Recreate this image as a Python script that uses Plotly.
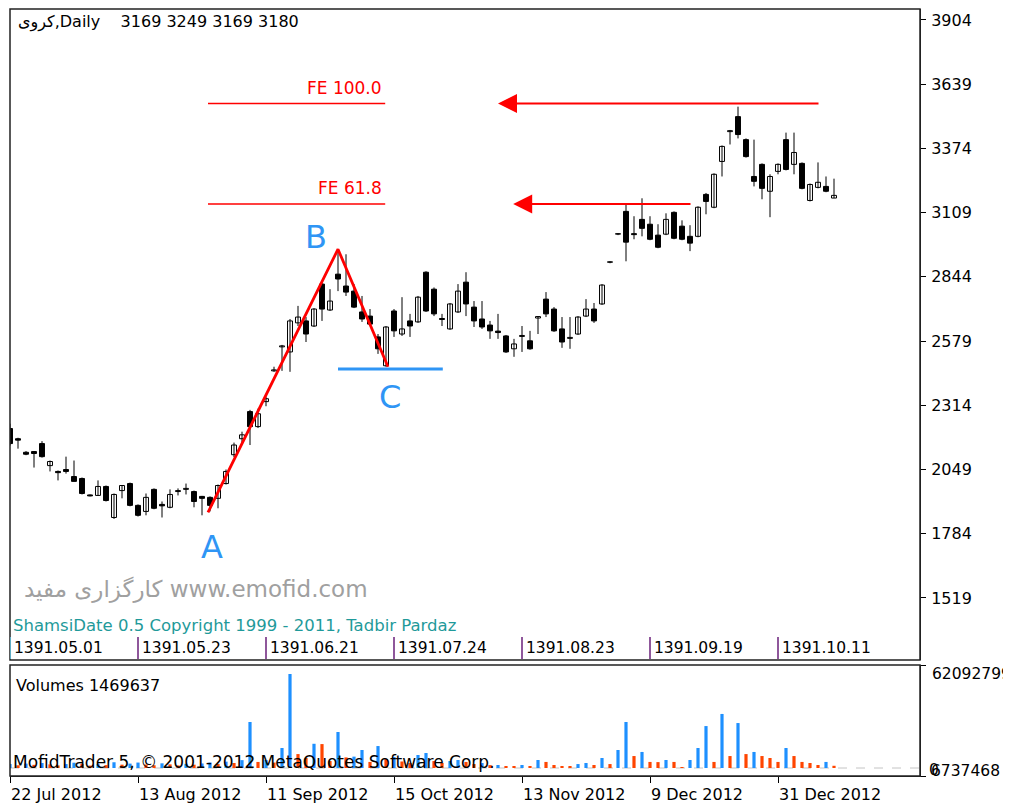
import plotly.graph_objects as go

# ---------------- data ----------------
bar_index = list(range(104))

opens = [2218, 2176, 2120, 2123, 2156, 2065, 2041, 2049, 2020, 2012,
         1944, 1942, 1979, 1851, 1962, 1991, 1901, 1876, 1967, 1905,
         1893, 1958, 1967, 1958, 1938, 1934, 1930, 1991, 2110, 2176,
         2288, 2226, 2329, 2456, 2555, 2534, 2654, 2662, 2641, 2814,
         2707, 2855, 2806, 2785, 2699, 2682, 2596, 2477, 2703, 2608,
         2662, 2658, 2863, 2793, 2672, 2629, 2699, 2822, 2719, 2670,
         2645, 2620, 2600, 2547, 2598, 2580, 2674, 2752, 2711, 2629,
         2590, 2608, 2682, 2711, 2732, 2904, 3020, 3114, 3022, 3081,
         3061, 3016, 3020, 3110, 3053, 3011, 3011, 3184, 3131, 3320,
         3443, 3505, 3410, 3258, 3308, 3197, 3279, 3410, 3308, 3312,
         3159, 3213, 3217, 3169]
highs = [2238, 2180, 2125, 2125, 2166, 2086, 2045, 2102, 2086, 2016,
         1946, 2004, 1983, 1950, 1985, 1995, 1905, 1950, 1971, 1917,
         1967, 1971, 1991, 1962, 1940, 1938, 1987, 2049, 2160, 2205,
         2295, 2300, 2350, 2473, 2563, 2670, 2724, 2678, 2715, 2822,
         2793, 2955, 2937, 2814, 2765, 2711, 2608, 2641, 2711, 2760,
         2691, 2765, 2867, 2800, 2691, 2736, 2814, 2863, 2744, 2744,
         2662, 2691, 2604, 2588, 2641, 2621, 2682, 2781, 2719, 2678,
         2678, 2682, 2752, 2736, 2814, 2908, 3024, 3143, 3094, 3168,
         3094, 3061, 3106, 3114, 3077, 3057, 3135, 3190, 3271, 3386,
         3450, 3546, 3415, 3410, 3312, 3267, 3312, 3439, 3439, 3316,
         3229, 3316, 3258, 3249]
lows = [2148, 2135, 2108, 2057, 2098, 2041, 2004, 2032, 2000, 1946,
        1938, 1940, 1917, 1845, 1930, 1897, 1855, 1860, 1885, 1851,
        1889, 1942, 1946, 1893, 1860, 1876, 1889, 1987, 2100, 2160,
        2150, 2220, 2310, 2452, 2456, 2452, 2641, 2575, 2637, 2662,
        2703, 2785, 2765, 2715, 2658, 2645, 2526, 2473, 2596, 2600,
        2596, 2654, 2699, 2682, 2641, 2625, 2695, 2682, 2637, 2629,
        2588, 2588, 2530, 2514, 2534, 2543, 2608, 2678, 2617, 2551,
        2547, 2604, 2678, 2654, 2728, 2900, 3016, 2908, 2999, 3011,
        2995, 2962, 3016, 2999, 2995, 2950, 3007, 3102, 3127, 3258,
        3390, 3415, 3336, 3217, 3164, 3090, 3267, 3283, 3267, 3205,
        3155, 3209, 3193, 3169]
closes = [2156, 2170, 2112, 2115, 2102, 2082, 2036, 2041, 2000, 1950,
          1940, 1979, 1921, 1946, 1983, 1901, 1860, 1934, 1889, 1899,
          1946, 1962, 1971, 1917, 1930, 1901, 1983, 2041, 2150, 2192,
          2226, 2279, 2341, 2460, 2559, 2662, 2678, 2608, 2711, 2711,
          2744, 2835, 2781, 2719, 2670, 2649, 2547, 2637, 2621, 2629,
          2641, 2760, 2703, 2691, 2668, 2732, 2785, 2732, 2662, 2637,
          2621, 2614, 2534, 2567, 2602, 2547, 2680, 2691, 2621, 2575,
          2594, 2678, 2711, 2662, 2810, 2904, 3020, 2987, 3018, 3044,
          2999, 2966, 3081, 3003, 2999, 2983, 3131, 3155, 3267, 3382,
          3447, 3431, 3340, 3238, 3209, 3258, 3308, 3287, 3357, 3209,
          3225, 3234, 3197, 3180]
volumes = [2600000, 1800000, 2900000, 2100000, 3300000, 2400000, 1700000, 2600000, 3500000, 2800000,
           1600000, 2500000, 1900000, 3800000, 2200000, 2900000, 3600000, 2300000, 1800000, 3100000,
           2400000, 1700000, 2800000, 2200000, 3000000, 3600000, 2700000, 4200000, 3300000, 5200000,
           30380000, 4000000, 5300000, 3600000, 13200000, 62092799, 9200000, 6600000, 16000000, 15800000,
           4600000, 23800000, 7000000, 7500000, 11900000, 4000000, 14500000, 6000000, 7300000, 4300000,
           3300000, 8600000, 9900000, 4600000, 3300000, 4600000, 5300000, 4000000, 2600000, 3300000,
           1900000, 2000000, 1300000, 1250000, 2000000, 1300000, 5300000, 4000000, 2000000, 1300000,
           700000, 2600000, 3300000, 2000000, 6600000, 2600000, 11900000, 30400000, 7900000, 10600000,
           4000000, 3900000, 5300000, 4000000, 660000, 5300000, 13200000, 27700000, 4000000, 35700000,
           7900000, 29700000, 9200000, 10600000, 7900000, 6600000, 4000000, 13200000, 7900000, 4000000,
           3300000, 2000000, 4000000, 1469637]

date_tick_idx = [0, 16, 32, 48, 64, 80, 96]
date_labels = ["22 Jul 2012", "13 Aug 2012", "11 Sep 2012", "15 Oct 2012",
               "13 Nov 2012", "9 Dec 2012", "31 Dec 2012"]
shamsi_labels = ["1391.05.01", "1391.05.23", "1391.06.21", "1391.07.24",
                 "1391.08.23", "1391.09.19", "1391.10.11"]
price_ticks = [1519, 1784, 2049, 2314, 2579, 2844, 3109, 3374, 3639, 3904]
vol_labels = [62092799, 6737468]

abc_names = ["A", "B", "C"]
abc_idx = [24.75, 41.0, 47.25]
abc_price = [1872, 2958, 2473]
c_line_idx = [41.0, 54.1]
c_line_price = 2464
fe_names = ["FE 61.8", "FE 100.0"]
fe_levels = [3144, 3559]
fe_seg_idx = [24.75, 46.9]
fe_arrow_tip = [62.9, 61.0]
fe_arrow_tail = [85.25, 101.25]

symbol = "کروی"

# ---------------- style ----------------
FONT = "DejaVu Sans"
BLUE = "#2F95F5"
RED = "#FF0000"
VOL_UP = "#1E90FF"
VOL_DN = "#FF4500"

# the page body has an 8px margin, so the figure is sized to end at the window edge
PAGE_OFF = 8
W, H = 1011 - PAGE_OFF, 807 - PAGE_OFF
ML, MR, MT, MB = 2, 91, 1, 31
PLOT_TOP = PAGE_OFF + MT
PLOT_BOTTOM = PAGE_OFF + H - MB
PLOT_LEFT = PAGE_OFF + ML
PLOT_RIGHT = PAGE_OFF + W - MR
def pfy(py):                     # page pixel row -> paper fraction
    return (PLOT_BOTTOM - py) / (PLOT_BOTTOM - PLOT_TOP)
def pfx(px):
    return (px - PLOT_LEFT) / (PLOT_RIGHT - PLOT_LEFT)

fig = go.Figure()

# wicks
wx, wy = [], []
for i, h, l in zip(bar_index, highs, lows):
    wx += [i, i, None]
    wy += [l, h, None]
fig.add_trace(go.Scatter(x=wx, y=wy, mode="lines", line=dict(color="black", width=1),
                         hoverinfo="skip", showlegend=False, xaxis="x", yaxis="y"))

bull = [i for i in bar_index if closes[i] >= opens[i]]
bear = [i for i in bar_index if closes[i] < opens[i]]
fig.add_trace(go.Bar(x=bull, y=[max(closes[i] - opens[i], 2) for i in bull],
                     base=[opens[i] for i in bull], width=0.62,
                     marker=dict(color="white", line=dict(color="black", width=1)),
                     showlegend=False, xaxis="x", yaxis="y"))
fig.add_trace(go.Bar(x=bear, y=[max(opens[i] - closes[i], 2) for i in bear],
                     base=[closes[i] for i in bear], width=0.62,
                     marker=dict(color="black", line=dict(color="black", width=1)),
                     showlegend=False, xaxis="x", yaxis="y"))

# volumes (colour: up if greater than previous bar)
vcol = [VOL_UP] + [VOL_UP if volumes[k] > volumes[k - 1] else VOL_DN for k in range(1, len(volumes))]
fig.add_trace(go.Bar(x=bar_index, y=volumes, width=0.4, marker=dict(color=vcol, line=dict(width=0)),
                     showlegend=False, xaxis="x", yaxis="y2"))

# ABC zigzag
fig.add_trace(go.Scatter(x=abc_idx, y=abc_price, mode="lines", line=dict(color=RED, width=2.8),
                         showlegend=False, xaxis="x", yaxis="y"))
# C level line
fig.add_trace(go.Scatter(x=c_line_idx, y=[c_line_price] * 2, mode="lines", line=dict(color=BLUE, width=3),
                         showlegend=False, xaxis="x", yaxis="y"))
# FE segments
for lev in fe_levels:
    fig.add_trace(go.Scatter(x=fe_seg_idx, y=[lev, lev], mode="lines", line=dict(color=RED, width=1.5),
                             showlegend=False, xaxis="x", yaxis="y"))

ann = []
# FE labels and arrows
for name, lev, tip, tail in zip(fe_names, fe_levels, fe_arrow_tip, fe_arrow_tail):
    ann.append(dict(x=fe_seg_idx[1], y=lev, xref="x", yref="y", text=name, showarrow=False,
                    xanchor="right", yanchor="bottom", yshift=4, xshift=-1,
                    font=dict(family=FONT, size=17, color=RED)))
    ann.append(dict(x=tip, y=lev, ax=tail, ay=lev, xref="x", yref="y", axref="x", ayref="y",
                    text="", showarrow=True, arrowhead=2, arrowsize=1.9, arrowwidth=2, arrowcolor=RED))

# A B C letters
shifts = {"A": (4, -35), "B": (-22, 12), "C": (2, -30)}
for n, xi, pr in zip(abc_names, abc_idx, abc_price):
    dx, dy = shifts[n]
    ann.append(dict(x=xi, y=pr, xref="x", yref="y", text=n, showarrow=False,
                    xshift=dx, yshift=dy, font=dict(family=FONT, size=32, color=BLUE)))

# texts
ann.append(dict(x=pfx(16), y=pfy(22), xref="paper", yref="paper", xanchor="left", yanchor="middle",
                text=f"{symbol},Daily\u00a0\u00a0\u00a0 {opens[-1]} {highs[-1]} {lows[-1]} {closes[-1]}",
                showarrow=False, font=dict(family=FONT, size=16, color="black")))
ann.append(dict(x=pfx(22), y=pfy(589), xref="paper", yref="paper", xanchor="left", yanchor="middle",
                text="کارگزاری مفید www.emofid.com", showarrow=False,
                font=dict(family=FONT, size=23, color="#A0A0A0")))
ann.append(dict(x=pfx(11), y=pfy(625), xref="paper", yref="paper", xanchor="left", yanchor="middle",
                text="ShamsiDate 0.5 Copyright 1999 - 2011, Tadbir Pardaz", showarrow=False,
                font=dict(family=FONT, size=16.5, color="#1F9A9A")))
for xi, lab in zip(date_tick_idx, shamsi_labels):
    ann.append(dict(x=xi, y=pfy(648), xref="x", yref="paper", xanchor="left", yanchor="middle",
                    xshift=2, text=lab, showarrow=False, font=dict(family=FONT, size=15.5, color="black")))
ann.append(dict(x=pfx(14), y=pfy(685), xref="paper", yref="paper", xanchor="left", yanchor="middle",
                text=f"Volumes {volumes[-1]}", showarrow=False, font=dict(family=FONT, size=16, color="black")))
ann.append(dict(x=pfx(11), y=pfy(762), xref="paper", yref="paper", xanchor="left", yanchor="middle",
                text="MofidTrader 5, © 2001-2012 MetaQuotes Software Corp.", showarrow=False,
                font=dict(family=FONT, size=17, color="black")))
# volume axis labels
ann.append(dict(x=pfx(930), y=vol_labels[0], xref="paper", yref="y2", xanchor="left", yanchor="middle",
                text=str(vol_labels[0]), showarrow=False, font=dict(family=FONT, size=15.5, color="black")))
ann.append(dict(x=pfx(927), y=0, xref="paper", yref="y2", xanchor="left", yanchor="middle",
                yshift=-2, text="0", showarrow=False, font=dict(family=FONT, size=15.5, color="black")))
ann.append(dict(x=pfx(929), y=0, xref="paper", yref="y2 domain", xanchor="left", yanchor="middle",
                yshift=5, text=str(vol_labels[1]), showarrow=False,
                font=dict(family=FONT, size=15.5, color="black")))

shapes = []
# pane boxes
shapes.append(dict(type="rect", xref="x domain", yref="y domain", x0=0, x1=1, y0=0, y1=1,
                   line=dict(color="#222", width=1.5), layer="above"))
shapes.append(dict(type="rect", xref="x domain", yref="y2 domain", x0=0, x1=1, y0=0, y1=1,
                   line=dict(color="#222", width=1.5), layer="above"))
# zero dashed line in volume pane
shapes.append(dict(type="line", xref="x domain", yref="y2", x0=0, x1=1, y0=0, y1=0,
                   line=dict(color="#C4C4C4", width=1, dash="dash"), layer="below"))
# shamsi separators
for k, xi in enumerate(date_tick_idx):
    shapes.append(dict(type="line", xref="x", yref="paper", x0=xi, x1=xi,
                       y0=pfy(659), y1=pfy(637),
                       line=dict(color="#5FC8E8" if k == 0 else "#6A1F7A", width=1.5)))

main_lo, main_hi = 1263, 3949
v_lo, v_hi = -5284320, 68035620

fig.update_layout(
    width=W, height=H, margin=dict(l=ML, r=MR, t=MT, b=MB),
    paper_bgcolor="white", plot_bgcolor="white", barmode="overlay",
    showlegend=False, annotations=ann, shapes=shapes,
    font=dict(family=FONT, size=15, color="black"),
    xaxis=dict(range=[0, 113.75], anchor="y2", showgrid=False, zeroline=False,
               tickvals=date_tick_idx, ticktext=date_labels, ticks="outside", ticklen=6,
               tickcolor="black", ticklabelposition="outside right", ticklabelstandoff=4,
               tickfont=dict(family=FONT, size=16, color="black"),
               showline=True, linecolor="#222", linewidth=1),
    yaxis=dict(domain=[pfy(660), 1], range=[main_lo, main_hi], side="right", anchor="x",
               showgrid=False, zeroline=False, tickvals=price_ticks, ticks="outside",
               ticklen=5, tickcolor="black", showline=True, linecolor="#222",
               tickfont=dict(family=FONT, size=16, color="black"), ticklabelstandoff=2),
    yaxis2=dict(domain=[0, pfy(665)], range=[v_lo, v_hi], side="right", anchor="x",
                showgrid=False, zeroline=False, tickvals=[v_lo, v_hi], ticktext=["", ""],
                ticks="outside", ticklen=5, tickcolor="black", showline=True, linecolor="#222"),
)

fig.write_html("out.html")
